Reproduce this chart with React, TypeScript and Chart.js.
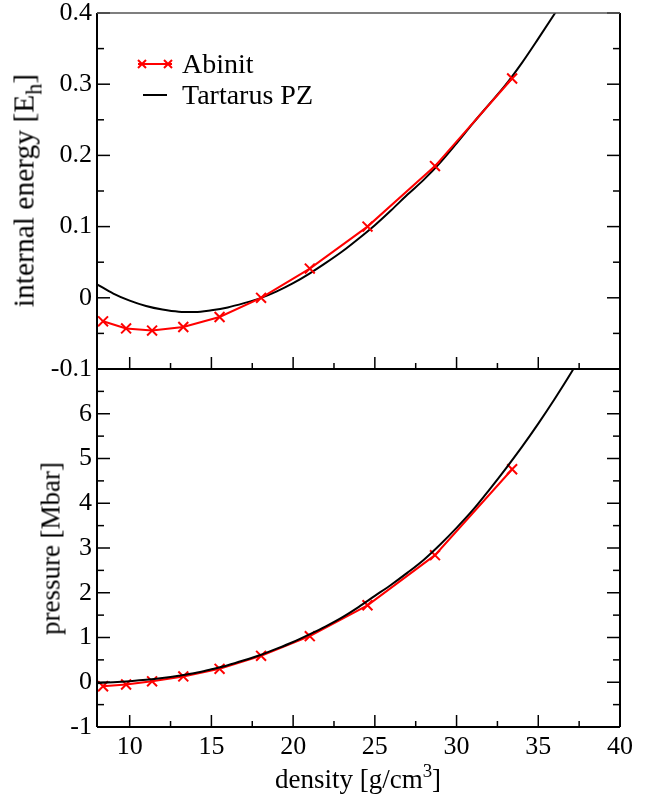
import React, { useEffect, useRef } from 'react';
import { Chart, registerables } from 'chart.js';

Chart.register(...registerables);

// ---- Data ----
const abinitDensity = [8.37, 9.78, 11.37, 13.28, 15.5, 18.04, 21.02, 24.55, 28.68, 33.4];
const abinitEnergy = [-0.033, -0.043, -0.046, -0.041, -0.027, 0.0, 0.041, 0.1, 0.185, 0.308];
const abinitPressure = [-0.09, -0.05, 0.02, 0.13, 0.3, 0.59, 1.03, 1.72, 2.84, 4.76];

const tartarusEnergyDensity = [8, 9, 10, 11, 12, 13, 14, 15, 16, 17, 18, 19, 20, 21, 22, 23, 24, 25, 26, 27, 28, 29, 30, 31, 32, 33, 34, 35, 36, 36.5];
const tartarusEnergy = [0.019, 0.006, -0.004, -0.0115, -0.0165, -0.0195, -0.02, -0.0175, -0.0135, -0.0075, -0.0005, 0.009, 0.0205, 0.034, 0.049, 0.065, 0.083, 0.102, 0.123, 0.145, 0.166, 0.19, 0.217, 0.245, 0.272, 0.299, 0.33, 0.364, 0.399, 0.417];

const tartarusPressureDensity = [8, 9, 10, 11, 12, 13, 14, 15, 16, 17, 18, 19, 20, 21, 22, 23, 24, 25, 26, 27, 28, 29, 30, 31, 32, 33, 34, 35, 36, 37, 37.4];
const tartarusPressure = [-0.02, 0.0, 0.025, 0.055, 0.095, 0.145, 0.205, 0.29, 0.38, 0.49, 0.61, 0.75, 0.9, 1.07, 1.25, 1.45, 1.68, 1.93, 2.18, 2.45, 2.74, 3.08, 3.45, 3.85, 4.3, 4.77, 5.26, 5.78, 6.33, 6.91, 7.16];

// ---- Axes / ticks ----
const densityRange = [8, 40];
const energyRange = [-0.1, 0.4];
const pressureRange = [-1, 7];
const densityMajorTicks = [10, 15, 20, 25, 30, 35, 40];
const densityMinorTicks = [12.5, 17.5, 22.5, 27.5, 32.5, 37.5];
const energyMajorTicks = [-0.1, 0, 0.1, 0.2, 0.3, 0.4];
const energyMinorTicks = [-0.05, 0.05, 0.15, 0.25, 0.35];
const pressureMajorTicks = [-1, 0, 1, 2, 3, 4, 5, 6];
const pressureMinorTicks = [-0.5, 0.5, 1.5, 2.5, 3.5, 4.5, 5.5, 6.5];

const FONT = '"Liberation Serif", "Times New Roman", serif';
const RED = '#ff0000';

const pts = (xs: number[], ys: number[]) => xs.map((x, i) => ({ x, y: ys[i] }));

const framePlugin = {
  id: 'frame',
  afterDatasetsDraw(chart: any, _args: any, opts: any) {
    const { ctx, chartArea } = chart;
    const { left, right, top, bottom } = chartArea;
    const xs = chart.scales.x;
    const ys = chart.scales.y;
    const line = (x1: number, y1: number, x2: number, y2: number) => {
      ctx.beginPath();
      ctx.moveTo(x1, y1);
      ctx.lineTo(x2, y2);
      ctx.stroke();
    };
    ctx.save();
    ctx.strokeStyle = '#000';
    ctx.lineWidth = 1.5;
    (opts.xMajor || []).forEach((v: number) => {
      const x = xs.getPixelForValue(v);
      line(x, bottom, x, bottom - 12);
    });
    (opts.xMinor || []).forEach((v: number) => {
      const x = xs.getPixelForValue(v);
      line(x, bottom, x, bottom - 6);
    });
    (opts.yMajor || []).forEach((v: number) => {
      const y = ys.getPixelForValue(v);
      line(left, y, left + 13, y);
      line(right, y, right - 13, y);
    });
    (opts.yMinor || []).forEach((v: number) => {
      const y = ys.getPixelForValue(v);
      line(left, y, left + 7, y);
      line(right, y, right - 7, y);
    });
    ctx.lineWidth = 2;
    line(left, top, left, bottom);
    line(right, top, right, bottom);
    line(left, bottom, right, bottom);
    if (opts.topLine) {
      ctx.strokeStyle = '#555';
      ctx.lineWidth = 1.5;
      line(left, top, right, top);
    }
    ctx.restore();
  },
};

const legendPlugin = {
  id: 'customLegend',
  afterDraw(chart: any, _args: any, opts: any) {
    if (!opts || !opts.show) return;
    const { ctx } = chart;
    ctx.save();
    // Abinit
    ctx.strokeStyle = RED;
    ctx.lineWidth = 2;
    ctx.beginPath();
    ctx.moveTo(138, 64);
    ctx.lineTo(172, 64);
    ctx.stroke();
    [142, 168].forEach((cx) => {
      ctx.beginPath();
      ctx.moveTo(cx - 4, 60);
      ctx.lineTo(cx + 4, 68);
      ctx.moveTo(cx - 4, 68);
      ctx.lineTo(cx + 4, 60);
      ctx.stroke();
    });
    // Tartarus
    ctx.strokeStyle = '#000';
    ctx.beginPath();
    ctx.moveTo(143, 95);
    ctx.lineTo(167, 95);
    ctx.stroke();
    ctx.fillStyle = '#000';
    ctx.font = `28px ${FONT}`;
    ctx.textBaseline = 'alphabetic';
    ctx.textAlign = 'left';
    ctx.fillText(opts.labels[0], 182, 73);
    ctx.fillText(opts.labels[1], 182, 104);
    ctx.restore();
  },
};

const tickFont = { family: FONT, size: 26 };

const noYPad = (w: number) => (s: any) => {
  s.width = w;
  s.paddingTop = 0;
  s.paddingBottom = 0;
};

export default function App() {
  const topRef = useRef<HTMLCanvasElement>(null);
  const botRef = useRef<HTMLCanvasElement>(null);

  useEffect(() => {
    const c1 = new Chart(topRef.current as HTMLCanvasElement, {
      type: 'line',
      data: {
        datasets: [
          {
            label: 'Abinit',
            data: pts(abinitDensity, abinitEnergy),
            borderColor: RED,
            backgroundColor: RED,
            borderWidth: 2,
            pointStyle: 'crossRot',
            pointRadius: 7,
            pointBorderWidth: 2,
            pointBorderColor: RED,
            tension: 0,
            order: 1,
          },
          {
            label: 'Tartarus PZ',
            data: pts(tartarusEnergyDensity, tartarusEnergy),
            borderColor: '#000',
            borderWidth: 2,
            pointRadius: 0,
            cubicInterpolationMode: 'monotone',
            order: 2,
          },
        ],
      },
      options: {
        responsive: false,
        animation: false,
        layout: { padding: { left: 0, right: 31, top: 13, bottom: 31 } },
        plugins: {
          legend: { display: false },
          tooltip: { enabled: false },
          frame: { xMajor: densityMajorTicks, xMinor: densityMinorTicks, yMajor: energyMajorTicks, yMinor: energyMinorTicks, topLine: true },
          customLegend: { show: true, labels: ['Abinit', 'Tartarus PZ'] },
        } as any,
        scales: {
          x: {
            type: 'linear',
            display: false,
            min: densityRange[0],
            max: densityRange[1],
          },
          y: {
            type: 'linear',
            min: energyRange[0],
            max: energyRange[1],
            afterFit: noYPad(97),
            afterBuildTicks: (s: any) => { s.ticks = energyMajorTicks.map((v) => ({ value: v })); },
            grid: { display: false, drawTicks: false },
            border: { display: false },
            ticks: { font: tickFont, color: '#000', padding: 5, autoSkip: false, callback: (v: any) => String(v) },
          },
        },
      } as any,
      plugins: [framePlugin, legendPlugin],
    });

    const c2 = new Chart(botRef.current as HTMLCanvasElement, {
      type: 'line',
      data: {
        datasets: [
          {
            label: 'Abinit',
            data: pts(abinitDensity, abinitPressure),
            borderColor: RED,
            backgroundColor: RED,
            borderWidth: 2,
            pointStyle: 'crossRot',
            pointRadius: 7,
            pointBorderWidth: 2,
            pointBorderColor: RED,
            tension: 0,
            order: 2,
          },
          {
            label: 'Tartarus PZ',
            data: pts(tartarusPressureDensity, tartarusPressure),
            borderColor: '#000',
            borderWidth: 2,
            pointRadius: 0,
            cubicInterpolationMode: 'monotone',
            order: 1,
          },
        ],
      },
      options: {
        responsive: false,
        animation: false,
        layout: { padding: { left: 0, right: 31, top: 9, bottom: 29 } },
        plugins: {
          legend: { display: false },
          tooltip: { enabled: false },
          frame: { xMajor: densityMajorTicks, xMinor: densityMinorTicks, yMajor: pressureMajorTicks, yMinor: pressureMinorTicks, topLine: false },
        } as any,
        scales: {
          x: {
            type: 'linear',
            min: densityRange[0],
            max: densityRange[1],
            afterFit: (s: any) => { s.height = 40; s.paddingLeft = 0; s.paddingRight = 0; },
            afterBuildTicks: (s: any) => { s.ticks = densityMajorTicks.map((v) => ({ value: v })); },
            grid: { display: false, drawTicks: false },
            border: { display: false },
            ticks: { font: tickFont, color: '#000', padding: 5, autoSkip: false, maxRotation: 0, callback: (v: any) => String(v) },
          },
          y: {
            type: 'linear',
            min: pressureRange[0],
            max: pressureRange[1],
            afterFit: noYPad(97),
            afterBuildTicks: (s: any) => { s.ticks = pressureMajorTicks.map((v) => ({ value: v })); },
            grid: { display: false, drawTicks: false },
            border: { display: false },
            ticks: { font: tickFont, color: '#000', padding: 5, autoSkip: false, callback: (v: any) => String(v) },
          },
        },
      } as any,
      plugins: [framePlugin],
    });

    return () => {
      c1.destroy();
      c2.destroy();
    };
  }, []);

  const titleBase: React.CSSProperties = {
    position: 'absolute',
    fontFamily: FONT,
    fontSize: 27,
    lineHeight: '27px',
    height: 27,
    textAlign: 'center',
    whiteSpace: 'nowrap',
    color: '#000',
  };

  return (
    <div style={{ position: 'absolute', left: 0, top: 0, width: 651, height: 796, background: '#fff', overflow: 'hidden' }}>
      <canvas ref={topRef} width={651} height={400} style={{ position: 'absolute', left: 0, top: 0 }} />
      <canvas ref={botRef} width={651} height={436} style={{ position: 'absolute', left: 0, top: 360 }} />
      <div style={{ ...titleBase, fontSize: 29.5, left: 24 - 150, top: 190 - 13.5, width: 300, transform: 'rotate(-90deg)' }}>
        internal energy [E<span style={{ fontSize: '75%', position: 'relative', top: '0.35em' }}>h</span>]
      </div>
      <div style={{ ...titleBase, left: 51 - 150, top: 548 - 13.5, width: 300, transform: 'rotate(-90deg)' }}>
        pressure [Mbar]
      </div>
      <div style={{ ...titleBase, left: 358 - 200, top: 766, width: 400 }}>
        density [g/cm<span style={{ fontSize: '70%', position: 'relative', top: '-0.6em' }}>3</span>]
      </div>
    </div>
  );
}
